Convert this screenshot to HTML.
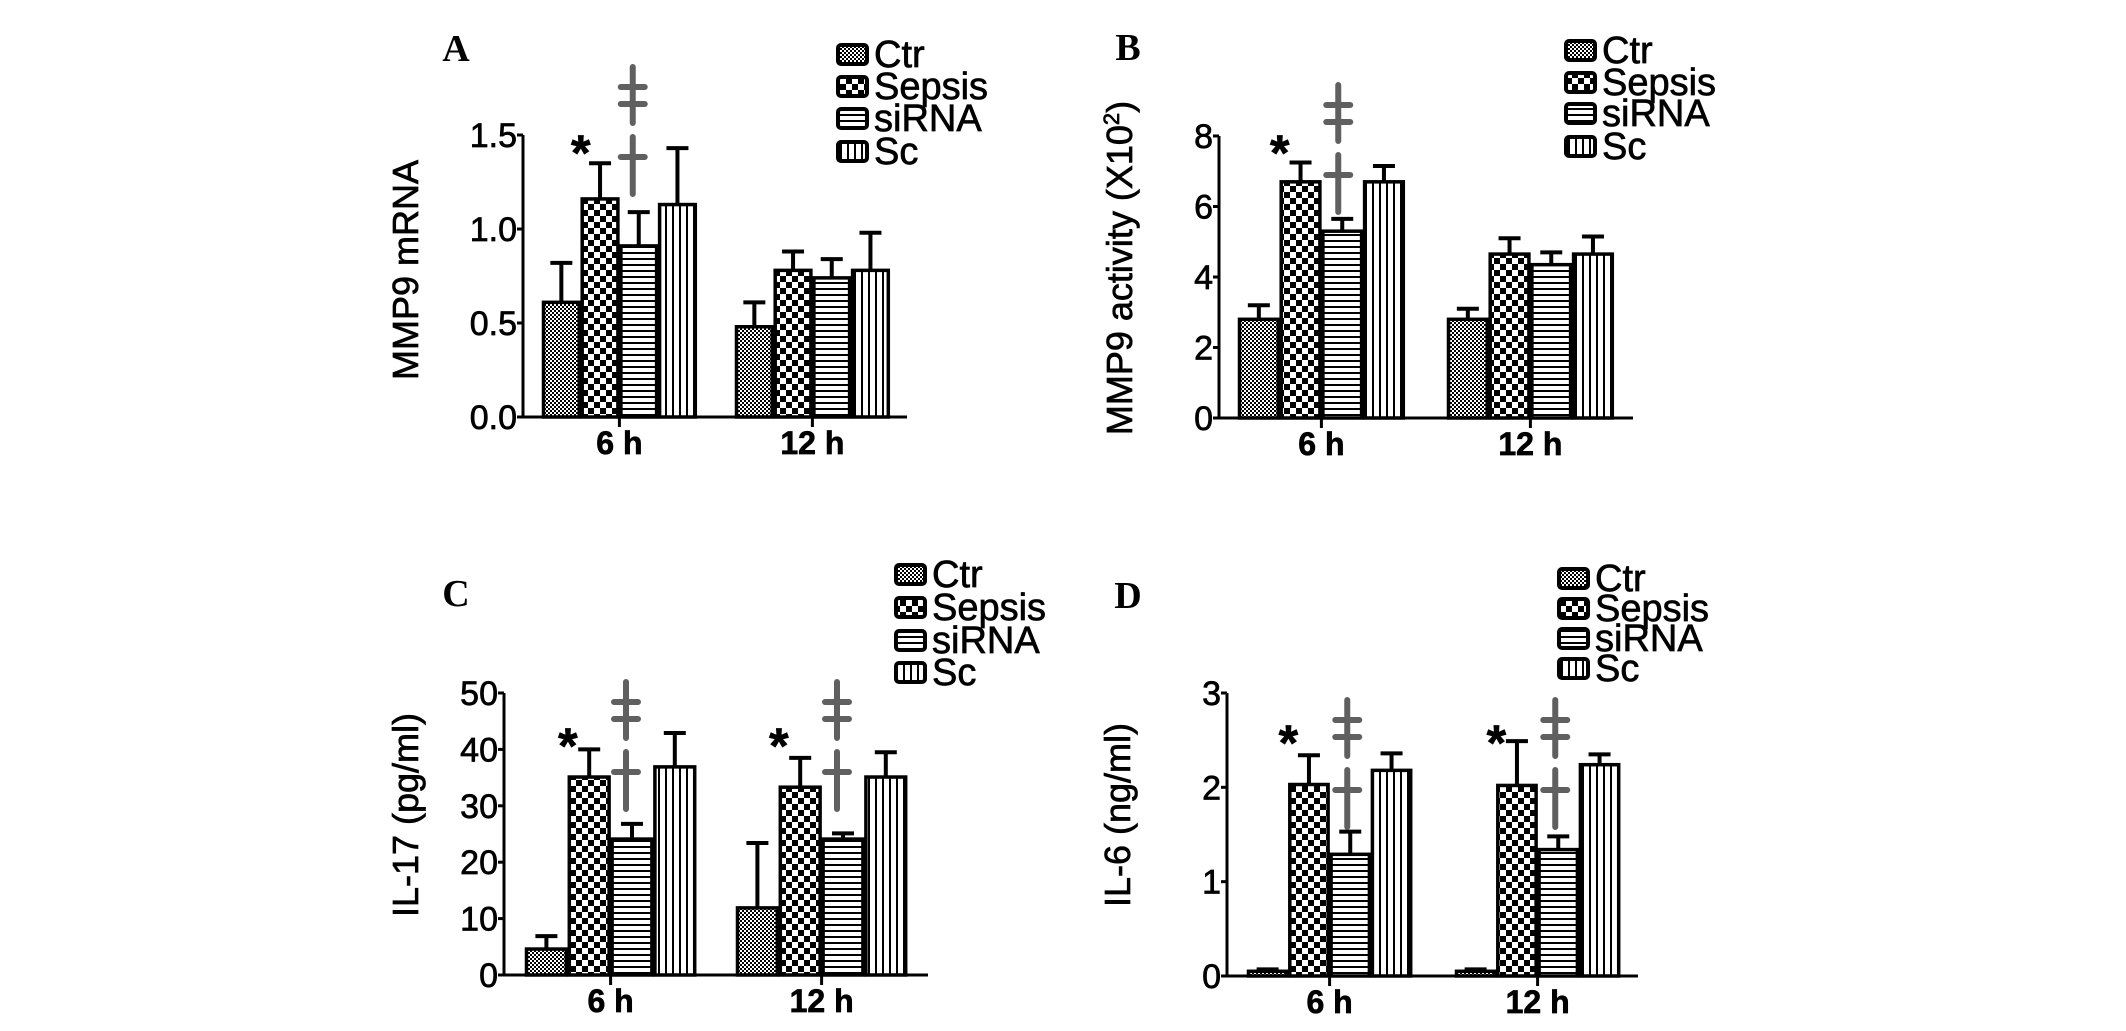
<!DOCTYPE html>
<html><head><meta charset="utf-8"><style>
html,body{margin:0;padding:0;background:#fff;}
svg{display:block;}
text{font-family:"Liberation Sans",Arial,sans-serif;stroke:#000;stroke-width:0.7px;}
.pl{font-family:"Liberation Serif",serif;font-weight:bold;font-size:38px;stroke-width:0;}
</style></head><body>
<svg id="fig" width="2126" height="1031" viewBox="0 0 2126 1031" xmlns="http://www.w3.org/2000/svg">
<defs>
<pattern id="p-ctr" width="4" height="4" patternUnits="userSpaceOnUse"><rect width="4" height="4" fill="#fff"/><rect width="2" height="2" fill="#000"/><rect x="2" y="2" width="2" height="2" fill="#000"/></pattern>
<pattern id="p-sep" width="12" height="12" patternUnits="userSpaceOnUse"><rect width="12" height="12" fill="#fff"/><rect width="6" height="6" fill="#000"/><rect x="6" y="6" width="6" height="6" fill="#000"/></pattern>
<pattern id="p-sir" width="6" height="6" patternUnits="userSpaceOnUse"><rect width="6" height="6" fill="#fff"/><rect width="6" height="2" fill="#000"/></pattern>
<pattern id="p-sc" width="7" height="7" patternUnits="userSpaceOnUse"><rect width="7" height="7" fill="#fff"/><rect width="2" height="7" fill="#000"/></pattern>
</defs>
<g id="root"></g>
</svg>
<script>
const groups = ["6 h", "12 h"];
const seriesNames = ["Ctr", "Sepsis", "siRNA", "Sc"];
// Panel A: MMP9 mRNA
const aMean6 = [0.61, 1.16, 0.91, 1.13];
const aErr6 = [0.82, 1.35, 1.09, 1.43];
const aMean12 = [0.48, 0.78, 0.74, 0.78];
const aErr12 = [0.61, 0.88, 0.84, 0.98];
const aTicks = ["0.0", "0.5", "1.0", "1.5"];
// Panel B: MMP9 activity
const bMean6 = [2.8, 6.7, 5.3, 6.7];
const bErr6 = [3.2, 7.25, 5.65, 7.15];
const bMean12 = [2.8, 4.65, 4.35, 4.65];
const bErr12 = [3.1, 5.1, 4.7, 5.15];
const bTicks = ["0", "2", "4", "6", "8"];
// Panel C: IL-17
const cMean6 = [4.6, 35.1, 24.1, 36.9];
const cErr6 = [6.9, 40, 26.8, 42.9];
const cMean12 = [11.9, 33.3, 24.1, 35.1];
const cErr12 = [23.4, 38.5, 25.1, 39.5];
const cTicks = ["0", "10", "20", "30", "40", "50"];
// Panel D: IL-6
const dMean6 = [0.05, 2.03, 1.29, 2.18];
const dErr6 = [0.07, 2.34, 1.53, 2.36];
const dMean12 = [0.05, 2.02, 1.34, 2.24];
const dErr12 = [0.07, 2.49, 1.48, 2.35];
const dTicks = ["0", "1", "2", "3"];
// significance marks per group (true = shown)
const aSig = [true, false];
const bSig = [true, false];
const cSig = [true, true];
const dSig = [true, true];

const NS = "http://www.w3.org/2000/svg";
const root = document.getElementById("root");
function mk(tag, attrs, parent) {
  const e = document.createElementNS(NS, tag);
  for (const k in attrs) e.setAttribute(k, attrs[k]);
  (parent || root).appendChild(e);
  return e;
}
const pats = ["url(#p-ctr)", "url(#p-sep)", "url(#p-sir)", "url(#p-sc)"];

function panel(cfg) {
  const g = mk("g", {});
  
  
  const ymax = parseFloat(cfg.ticks[cfg.ticks.length - 1]);
  const yOf = v => cfg.y0 - (v / ymax) * (cfg.y0 - cfg.yTop);
  const L = mk("text", {x: cfg.lx, y: cfg.ly, class: "pl", "text-anchor": "middle"}, g);
  L.textContent = cfg.id.toUpperCase();
  
  
  const t = mk("text", {x: 0, y: 0, "font-size": 36, "text-anchor": "middle",
    transform: "translate(" + cfg.tx + "," + cfg.ty + ") rotate(-90)"}, g);
  
  
  t.textContent = cfg.title;
  if (cfg.sup) {
    const s = mk("tspan", {"font-size": 22, dy: -13}, t); s.textContent = cfg.sup;
    const s2 = mk("tspan", {dy: 13}, t); s2.textContent = ")";
  }
  const sets = [[cfg.m6, cfg.e6], [cfg.m12, cfg.e12]];
  sets.forEach((set, gi) => {
    const gx = cfg.gx[gi];
    set[0].forEach((v, i) => {
      const x = gx + i * cfg.bw;
      const cx = x + cfg.bw / 2;
      const ye = yOf(set[1][i]);
      const eb = mk("path", {d: "M" + cx + "," + yOf(v) + "V" + ye + "M" + (cx - 11) + "," + ye + "H" + (cx + 11), stroke: "#000", "stroke-width": 4, fill: "none"}, g);
      
      
      const r = mk("rect", {x: x + 1.5, y: yOf(v), width: cfg.bw - 3, height: cfg.y0 - yOf(v), fill: pats[i], stroke: "#000", "stroke-width": 3.5}, g);
      
      
    });
    const mid = gx + cfg.bw * 2;
    mk("line", {x1: mid, x2: mid, y1: cfg.y0, y2: cfg.y0 + 10, stroke: "#000", "stroke-width": 3}, g);
    const xl = mk("text", {x: mid, y: cfg.y0 + 37, "font-size": 32, "font-weight": "bold", "text-anchor": "middle"}, g);
    
    
    xl.textContent = groups[gi];
    if (cfg.sig[gi]) {
      const sx = gx + cfg.bw;
      const st = mk("text", {x: sx, y: cfg.starY + 25, "font-size": 50, "font-weight": "bold", "text-anchor": "middle"}, g);
      
      
      st.textContent = "*";
      const dx = gx + cfg.bw * 2.5 + cfg.dagOff;
      const dt = cfg.dagTop;
      const dg = mk("path", {d: "M" + dx + "," + dt + "V" + (dt + 56) +
        "M" + (dx - 12) + "," + (dt + 20) + "H" + (dx + 12) +
        "M" + (dx - 12) + "," + (dt + 37) + "H" + (dx + 12) +
        "M" + dx + "," + (dt + 70) + "V" + (dt + 127) +
        "M" + (dx - 12) + "," + (dt + 90) + "H" + (dx + 12),
        stroke: "#444", "stroke-opacity": 0.85, "stroke-width": 6, "stroke-linecap": "round", fill: "none"}, g);
      
      
    }
  });
  const ax = mk("path", {d: "M" + cfg.ax + "," + cfg.yTop + "V" + cfg.y0 + "H" + cfg.xEnd, stroke: "#000", "stroke-width": 3, fill: "none"}, g);
  
  
  cfg.ticks.forEach(tk => {
    const y = yOf(parseFloat(tk));
    mk("line", {x1: cfg.ax - 6, x2: cfg.ax, y1: y, y2: y, stroke: "#000", "stroke-width": 3}, g);
    const tl = mk("text", {x: cfg.ax - 6, y: y + 12, "font-size": 34, "text-anchor": "end"}, g);
    
    
    tl.textContent = tk;
  });
  const lg = mk("g", {}, g);
  
  
  seriesNames.forEach((n, i) => {
    const y = cfg.legY[i];
    const b = mk("rect", {x: cfg.legX, y: y - 9, width: 29, height: 19, rx: 3, fill: pats[i], stroke: "#000", "stroke-width": 4}, lg);
    
    
    const tx = mk("text", {x: cfg.legX + 36, y: y + 13, "font-size": 38}, lg);
    
    
    tx.textContent = n;
  });
}

panel({id: "a", ticks: aTicks, m6: aMean6, e6: aErr6, m12: aMean12, e12: aErr12, sig: aSig,
  ax: 523, yTop: 135, y0: 417, xEnd: 907, gx: [542, 735], bw: 38.7,
  lx: 456, ly: 61, tx: 418, ty: 270, title: "MMP9 mRNA",
  starY: 145, dagTop: 67, dagOff: -6, legX: 838, legY: [54, 86, 118, 151]});
panel({id: "b", ticks: bTicks, m6: bMean6, e6: bErr6, m12: bMean12, e12: bErr12, sig: bSig,
  ax: 1219, yTop: 136, y0: 418, xEnd: 1633, gx: [1238, 1447], bw: 41.7,
  lx: 1128, ly: 60, tx: 1132, ty: 268, title: "MMP9 activity  (X10", sup: "2",
  starY: 145, dagTop: 85, dagOff: -4, legX: 1566, legY: [50, 82, 113, 146]});
panel({id: "c", ticks: cTicks, m6: cMean6, e6: cErr6, m12: cMean12, e12: cErr12, sig: cSig,
  ax: 504, yTop: 693, y0: 975, xEnd: 928, gx: [525, 736], bw: 42.8,
  lx: 456, ly: 606, tx: 418, ty: 815, title: "IL-17  (pg/ml)",
  starY: 738, dagTop: 682, dagOff: -6, legX: 896, legY: [574, 607, 640, 672]});
panel({id: "d", ticks: dTicks, m6: dMean6, e6: dErr6, m12: dMean12, e12: dErr12, sig: dSig,
  ax: 1227, yTop: 693, y0: 976, xEnd: 1638, gx: [1247, 1455], bw: 41.3,
  lx: 1128, ly: 608, tx: 1130, ty: 815, title: "IL-6  (ng/ml)",
  starY: 735, dagTop: 700, dagOff: -3, legX: 1559, legY: [578, 608, 638, 668]});
</script>
</body></html>
